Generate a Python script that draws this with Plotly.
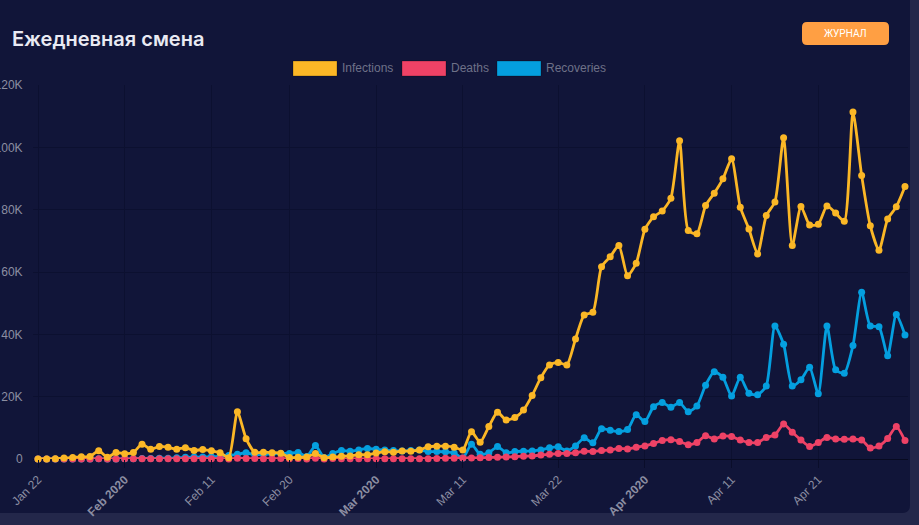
import pandas as pd
import plotly.graph_objects as go

# ---------------- data ----------------
dates = pd.date_range("2020-01-22", "2020-05-01", freq="D")

infections = [0, 0, 99, 287, 493, 684, 809, 2651, 588, 2068,
              1693, 2111, 4749, 3094, 4011, 3743, 3159, 3597, 2729, 3030,
              2612, 2040, 419, 15147, 6517, 2145, 2194, 2034, 1878, 503,
              558, 622, 1753, 386, 603, 845, 982, 1358, 1366, 1899,
              2358, 2200, 2600, 2500, 2900, 3950, 4100, 4100, 3800, 2900,
              8750, 5350, 10400, 15000, 12500, 13300, 15700, 20400, 26100, 30200,
              31000, 30200, 38500, 46200, 47100, 61700, 64900, 68500, 58800, 62800,
              73700, 77700, 79600, 83700, 102100, 73300, 72300, 81300, 85300, 89900,
              96300, 80800, 73800, 65800, 78100, 82500, 103100, 68500, 81000, 75100,
              75300, 81200, 78900, 76300, 111300, 91000, 74800, 67000, 77000, 80900,
              87400]

deaths = [0, 0, 1, 8, 16, 14, 26, 49, 2, 38,
          42, 46, 103, 64, 66, 72, 70, 85, 87, 100,
          107, 100, 5, 253, 152, 143, 104, 98, 139, 115,
          125, 4, 207, 11, 160, 79, 62, 44, 58, 69,
          55, 70, 80, 95, 110, 100, 200, 230, 260, 330,
          350, 400, 500, 550, 650, 750, 900, 1000, 1250, 1500,
          1750, 1800, 2000, 2500, 2400, 2700, 2900, 3400, 3200, 3800,
          4200, 5000, 5900, 6200, 5600, 4600, 5300, 7500, 6400, 7400,
          7200, 6100, 5300, 5300, 6900, 7700, 11200, 8600, 6100, 4000,
          5300, 6900, 6400, 6300, 6400, 6100, 3500, 4200, 6600, 10400,
          5900]

recoveries = [0, 0, 2, 6, 3, 13, 9, 46, 19, 17,
              79, 62, 188, 151, 229, 272, 363, 524, 605, 628,
              702, 792, 1153, 1500, 2000, 1400, 1500, 1700, 1800, 1800,
              2100, 800, 4300, 500, 1800, 2700, 2500, 2900, 3400, 3100,
              2900, 2700, 2600, 2700, 2900, 2400, 2400, 2300, 1900, 300,
              4700, 1500, 2000, 4000, 2000, 2400, 2500, 2600, 2900, 3600,
              3900, 2600, 4200, 6800, 5200, 9700, 9200, 8800, 9500, 14200,
              12000, 16800, 18100, 16600, 18100, 15200, 17000, 23700, 28000, 26200,
              20200, 26200, 21100, 20600, 23400, 42700, 36800, 23400, 25400, 29400,
              20900, 42700, 28600, 27500, 36400, 53500, 42700, 42400, 33100, 46400,
              39800]

x_tick_dates = ["2020-01-22", "2020-02-01", "2020-02-11", "2020-02-20", "2020-03-01",
                "2020-03-11", "2020-03-22", "2020-04-01", "2020-04-11", "2020-04-21"]
x_tick_text = ["Jan 22", "<b>Feb 2020</b>", "Feb 11", "Feb 20", "<b>Mar 2020</b>",
               "Mar 11", "Mar 22", "<b>Apr 2020</b>", "Apr 11", "Apr 21"]
y_tick_vals = [0, 20000, 40000, 60000, 80000, 100000, 120000]
y_tick_text = ["0", "20K", "40K", "60K", "80K", "100K", "120K"]

series_names = ["Infections", "Deaths", "Recoveries"]
series_colors = ["#FBB726", "#EE4266", "#049FDF"]

# ---------------- layout helpers ----------------
W, H = 919, 525
L, R, T, B = 33, 908, 85, 459
pw, ph = R - L, B - T


def px(x):
    return (x - L) / pw


def py(y):
    return (B - y) / ph


def rrect(x0, y0, x1, y1, r):
    # rounded rectangle path in paper coords, from pixel values
    rx, ry = r / pw, r / ph
    X0, X1 = px(x0), px(x1)
    Y0, Y1 = py(y0), py(y1)  # Y0 top (bigger), Y1 bottom
    return (f"M {X0 + rx},{Y0} L {X1 - rx},{Y0} Q {X1},{Y0} {X1},{Y0 - ry} "
            f"L {X1},{Y1 + ry} Q {X1},{Y1} {X1 - rx},{Y1} L {X0 + rx},{Y1} "
            f"Q {X0},{Y1} {X0},{Y1 + ry} L {X0},{Y0 - ry} Q {X0},{Y0} {X0 + rx},{Y0} Z")


fig = go.Figure()

data_by_name = {"Infections": infections, "Deaths": deaths, "Recoveries": recoveries}
draw_order = ["Recoveries", "Deaths", "Infections"]
for name in draw_order:
    c = series_colors[series_names.index(name)]
    fig.add_trace(go.Scatter(
        x=dates, y=data_by_name[name], name=name, mode="lines+markers",
        line=dict(color=c, width=2.8, shape="spline", smoothing=0.6),
        marker=dict(color=c, size=7),
        cliponaxis=False, showlegend=False,
    ))

shapes = []
annotations = []

# card background with rounded bottom-right corner
shapes.append(dict(type="path", xref="paper", yref="paper", layer="below",
                   path=rrect(-20, -20, 910, 513, 8),
                   fillcolor="#111539", line=dict(width=0)))

# button
shapes.append(dict(type="path", xref="paper", yref="paper", layer="above",
                   path=rrect(802, 22, 889, 45, 5),
                   fillcolor="#FF9F43", line=dict(width=0)))
annotations.append(dict(xref="paper", yref="paper", x=px(845.5), y=py(33.5),
                        text="ЖУРНАЛ", showarrow=False, xanchor="center", yanchor="middle",
                        font=dict(family="Roboto", size=10, color="#FFFFFF")))

# title
annotations.append(dict(xref="paper", yref="paper", x=px(10), y=py(39),
                        text="Ежедневная смена", showarrow=False,
                        xanchor="left", yanchor="middle",
                        font=dict(family="Inter", size=20, color="#E9EAF3", weight=600)))

# custom legend
leg_x = [293, 402, 497]
for name, c, lx in zip(series_names, series_colors, leg_x):
    shapes.append(dict(type="rect", xref="paper", yref="paper", layer="above",
                       x0=px(lx), x1=px(lx + 44), y0=py(61), y1=py(76),
                       fillcolor=c, line=dict(color="rgba(0,0,0,0.25)", width=1)))
    annotations.append(dict(xref="paper", yref="paper", x=px(lx + 47), y=py(68.5),
                            text=name, showarrow=False, xanchor="left", yanchor="middle",
                            font=dict(family="Liberation Sans", size=12, color="#6E7188")))

fig.update_layout(
    width=W, height=H,
    margin=dict(l=L, r=W - R, t=T, b=H - B, pad=0),
    paper_bgcolor="#23274A",
    plot_bgcolor="rgba(0,0,0,0)",
    shapes=shapes, annotations=annotations,
    showlegend=False,
    font=dict(family="Liberation Sans", color="#8C8EA2"),
)

fig.update_xaxes(
    type="date",
    range=["2020-01-21 10:10", "2020-05-01 08:20"],
    tickvals=x_tick_dates, ticktext=x_tick_text, tickangle=-45,
    tickfont=dict(family="Liberation Sans", size=12, color="#8C8EA2"),
    showgrid=True, gridcolor="#0C1030", gridwidth=1,
    ticks="outside", ticklen=8, tickcolor="#0A0D2A",
    showline=False, zeroline=False, automargin=False,
)
fig.update_yaxes(
    range=[0, 120000],
    tickvals=y_tick_vals, ticktext=y_tick_text,
    tickfont=dict(family="Liberation Sans", size=12, color="#8C8EA2"),
    showgrid=True, gridcolor="#0C1030", gridwidth=1,
    zeroline=True, zerolinecolor="#070A20", zerolinewidth=1,
    ticks="outside", ticklen=7, tickcolor="rgba(0,0,0,0)",
    automargin=False,
)

fig.write_html("out.html",
               config={"displayModeBar": False},
               post_script="document.body.style.margin='0px';document.body.style.overflow='hidden';")
